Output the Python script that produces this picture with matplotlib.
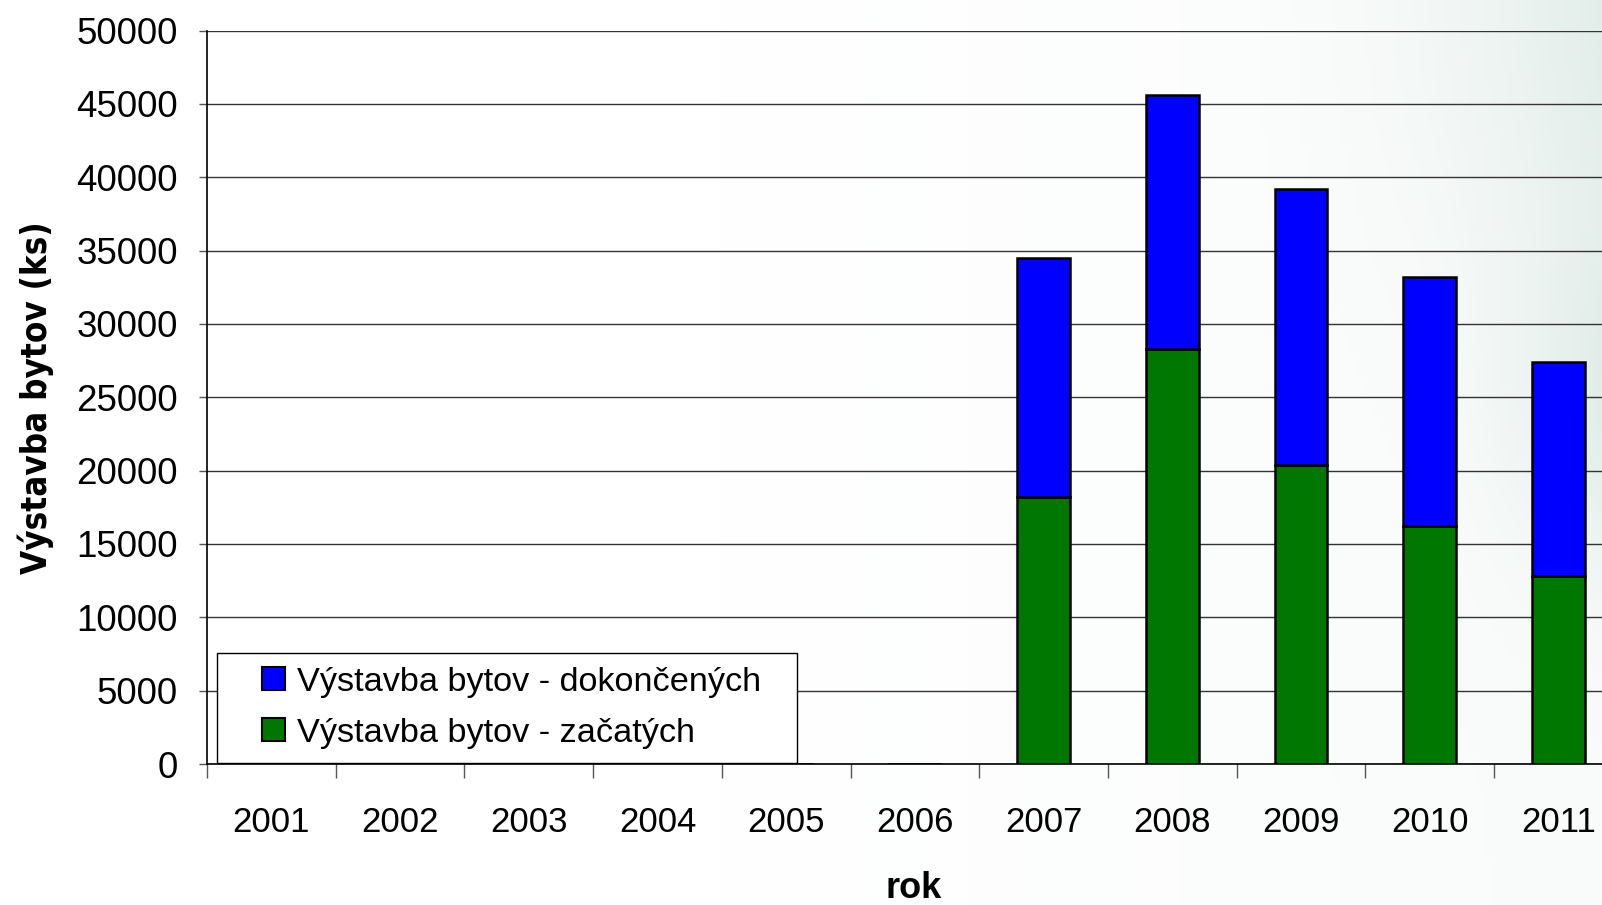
import numpy as np
import matplotlib
matplotlib.use("Agg")
import matplotlib.pyplot as plt
from matplotlib.patches import Patch, Rectangle
from matplotlib.legend_handler import HandlerPatch

years = ["2001", "2002", "2003", "2004", "2005", "2006", "2007", "2008", "2009", "2010", "2011"]
zacatych = [0, 0, 0, 0, 0, 0, 18200, 28300, 20400, 16200, 12800]
dokoncenych = [0, 0, 0, 0, 0, 0, 16300, 17300, 18800, 17000, 14600]
yticks = [0, 5000, 10000, 15000, 20000, 25000, 30000, 35000, 40000, 45000, 50000]

W, H = 1602, 905
fig = plt.figure(figsize=(W / 100, H / 100), dpi=100)

# background gradient (subtle)
bg = fig.add_axes([0, 0, 1, 1], zorder=-10)
xx, yy = np.meshgrid(np.linspace(0, 1, 400), np.linspace(0, 1, 230))
t = 0.14 * np.clip((xx - 0.45) / 0.55, 0, 1)
t += 0.55 * np.clip((xx - 0.75) / 0.25, 0, 1) ** 2 * np.exp(-(yy / 0.35) ** 2)
t += 0.45 * np.clip((xx - 0.88) / 0.12, 0, 1) ** 1.5 * np.exp(-((yy - 0.45) / 0.2) ** 2)
t = np.clip(t, 0, 1)
white = np.array([1.0, 1.0, 1.0])
tint = np.array([0.84, 0.90, 0.88])
img = white[None, None, :] * (1 - t[..., None]) + tint[None, None, :] * t[..., None]
bg.imshow(img, aspect="auto", extent=[0, 1, 0, 1], origin="upper")
bg.axis("off")

ax_left = 207 / W
ax_bottom = (H - 764) / H
ax_w = (128.7 * 11) / W
ax_h = (764 - 30.6) / H
ax = fig.add_axes([ax_left, ax_bottom, ax_w, ax_h])
ax.set_facecolor("none")

x = np.arange(len(years))
ax.bar(x, zacatych, width=0.41, color="#007800", edgecolor="black", linewidth=1.8, zorder=3)
ax.bar(x, dokoncenych, width=0.41, bottom=zacatych, color="#0000FF", edgecolor="black",
       linewidth=1.8, zorder=3)

ax.set_xlim(-0.5, len(years) - 0.5)
ax.set_ylim(0, 50000)
ax.set_yticks(yticks)
ax.set_yticklabels([str(v) for v in yticks], fontsize=26.5, family="Liberation Sans")
ax.yaxis.grid(True, color="#333333", linewidth=1.0, zorder=0)
ax.set_axisbelow(True)

ax.set_xticks(np.arange(len(years) + 1) - 0.5)
ax.set_xticklabels([])
ax.set_xticks(x, minor=True)
ax.set_xticklabels(years, minor=True, fontsize=25, family="Liberation Sans")
ax.tick_params(axis="x", which="major", length=10, width=1.0, direction="out", color="#555555")
ax.tick_params(axis="x", which="minor", length=0, pad=30)
ax.tick_params(axis="y", length=6, width=1.0, direction="out", pad=15, color="#555555")

for s in ["top", "right"]:
    ax.spines[s].set_visible(False)
ax.spines["left"].set_linewidth(1.2)
ax.spines["bottom"].set_linewidth(1.2)

fig.text(36 / W, 1 - 398 / H, "Výstavba bytov (ks)", fontsize=25, fontweight="bold",
         family=["Liberation Sans Narrow", "DejaVu Sans"], fontstretch="condensed",
         rotation=90, ha="center", va="center")
fig.text(914 / W, 1 - 888 / H, "rok", fontsize=26, fontweight="bold",
         family="Liberation Sans", ha="center", va="center")


def square_right(legend, orig_handle, xdescent, ydescent, width, height, fontsize):
    side = height * 1.05
    return Rectangle((width - side - xdescent, -ydescent + (height - side) / 2), side, side)


handles = [Patch(facecolor="#0000FF", edgecolor="black", linewidth=1.5),
           Patch(facecolor="#007800", edgecolor="black", linewidth=1.5)]
labels = ["Výstavba bytov - dokončených", "Výstavba bytov - začatých"]
leg = ax.legend(handles, labels, loc="lower left",
                bbox_to_anchor=(0.0068, 0.002, 0.41, 0.1), mode="expand",
                prop={"family": "Liberation Sans", "size": 24.7}, frameon=True,
                fancybox=False, edgecolor="black", framealpha=1, handlelength=1.6,
                handleheight=0.6, handletextpad=0.35, borderpad=0.4, labelspacing=0.58,
                borderaxespad=0,
                handler_map={Patch: HandlerPatch(patch_func=square_right)})
leg.get_frame().set_linewidth(1.0)
leg.set_zorder(5)

fig.savefig("out.png", dpi=100)
